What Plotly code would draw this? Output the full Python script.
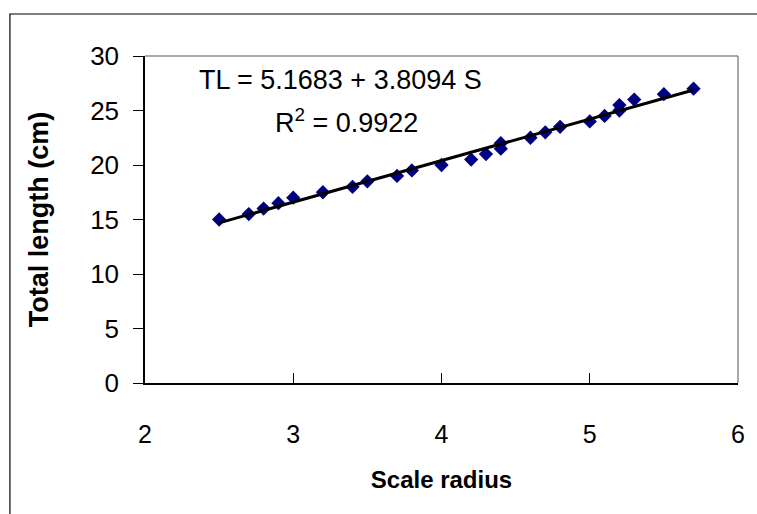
import plotly.graph_objects as go

scale_radius = [2.5, 2.7, 2.8, 2.9, 3.0, 3.2, 3.4, 3.5, 3.7, 3.8, 4.0, 4.2, 4.3, 4.4, 4.4,
                4.6, 4.7, 4.8, 5.0, 5.1, 5.2, 5.2, 5.3, 5.5, 5.7]
total_length = [15.0, 15.5, 16.0, 16.5, 17.0, 17.5, 18.0, 18.5, 19.0, 19.5, 20.0, 20.5, 21.0, 21.5, 22.0,
                22.5, 23.0, 23.5, 24.0, 24.5, 25.0, 25.5, 26.0, 26.5, 27.0]
intercept = 5.1683
slope = 3.8094
r_squared = 0.9922
x_ticks = [2, 3, 4, 5, 6]
y_ticks = [0, 5, 10, 15, 20, 25, 30]

x_fit = [min(scale_radius), max(scale_radius)]
y_fit = [intercept + slope * x for x in x_fit]

W, H = 757, 514
L, R, T, B = 145, 742, 56, 383
pw, ph = R - L, B - T

fig = go.Figure()
fig.add_trace(go.Scatter(x=scale_radius, y=total_length, mode="markers",
                         marker=dict(symbol="diamond", color="#000080", size=11,
                                     line=dict(width=0)),
                         showlegend=False))
fig.add_trace(go.Scatter(x=x_fit, y=y_fit, mode="lines",
                         line=dict(color="black", width=3), showlegend=False))

font = "Liberation Sans, Arial, sans-serif"
fig.update_layout(
    width=W, height=H,
    margin=dict(l=L, r=W - R, t=T, b=H - B),
    paper_bgcolor="white", plot_bgcolor="white",
    font=dict(family=font, color="black"),
    xaxis=dict(range=[2, 6], tickvals=x_ticks, ticks="inside", ticklen=10,
               tickcolor="black", showgrid=False, zeroline=False,
               showline=True, linecolor="black", linewidth=1.5,
               tickfont=dict(size=25, family=font), ticklabelstandoff=28,
               title=dict(text="<b>Scale radius</b>", font=dict(size=24, family=font),
                          standoff=24)),
    yaxis=dict(range=[0, 30], tickvals=y_ticks, ticks="outside", ticklen=10,
               tickcolor="black", showgrid=False, zeroline=False,
               showline=True, linecolor="black", linewidth=1.5,
               tickfont=dict(size=26, family=font), ticklabelstandoff=9,
               title=dict(text="<b>Total length (cm)</b>", font=dict(size=27, family=font),
                          standoff=34)),
    shapes=[
        dict(type="line", xref="paper", yref="paper", x0=0, x1=1, y0=1, y1=1,
             line=dict(color="#8c8c8c", width=1.5)),
        dict(type="line", xref="paper", yref="paper", x0=1, x1=1, y0=0, y1=1,
             line=dict(color="#8c8c8c", width=1.5)),
        dict(type="rect", xref="paper", yref="paper",
             x0=(9 - L) / pw, x1=(W + 20 - L) / pw,
             y0=-(H - B + 20) / ph, y1=1 + (T - 14) / ph,
             line=dict(color="black", width=1.2), layer="below"),
    ],
    annotations=[
        dict(x=3.32, y=27.8, xref="x", yref="y",
             text=f"TL = {intercept} + {slope} S", showarrow=False,
             font=dict(size=27, family=font)),
        dict(x=3.36, y=24.0, xref="x", yref="y",
             text=f"R<sup>2</sup> = {r_squared}", showarrow=False,
             font=dict(size=27, family=font)),
    ],
)

fig.write_html("out.html")
